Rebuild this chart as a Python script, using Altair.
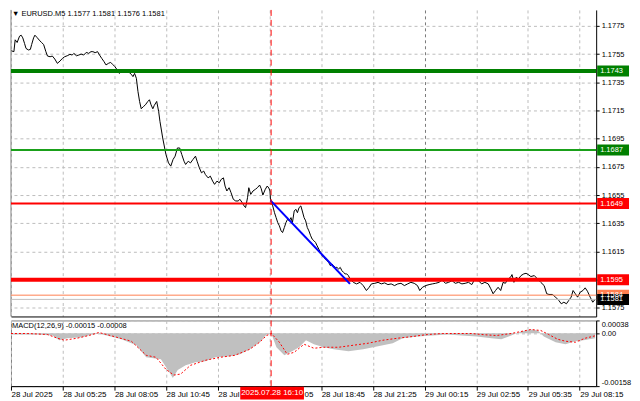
import json
import altair as alt
import pandas as pd

FONT = "Liberation Sans"
FS = 7.5
FSX = 8

# ---------------- price trace (bar index of M5 bars, close price) -------------
bars_a = [0.0, 1.8, 2.6, 3.8, 5.3, 6.3, 7.3, 8.4, 9.3, 10.8,
          12.0, 12.8, 14.0, 14.8, 16.1, 17.5, 18.9, 20.2, 21.6, 22.6,
          24.2, 25.6, 27.1, 28.7, 30.4, 31.8, 33.2, 34.8, 36.5, 37.9,
          38.9, 40.5, 42.0, 43.4, 45.0, 46.6, 48.1, 49.5, 50.7, 52.1,
          53.6, 54.8, 56.2, 57.6, 58.8, 60.3, 61.7, 62.9, 64.3, 65.8,
          67.0, 68.4, 69.8, 71.5, 73.1, 74.5, 75.5, 76.5, 77.6, 78.6,
          79.6, 80.6, 82.0, 83.2, 84.7, 85.7, 86.7, 87.8, 88.7, 90.2]
price_a = [1.17574, 1.17567, 1.17651, 1.17632, 1.17677, 1.17684, 1.17665, 1.17625, 1.17590, 1.17579,
           1.17583, 1.17618, 1.17665, 1.17684, 1.17668, 1.17649, 1.17632, 1.17618, 1.17567, 1.17536,
           1.17531, 1.17536, 1.17515, 1.17484, 1.17501, 1.17519, 1.17531, 1.17538, 1.17548, 1.17543,
           1.17555, 1.17538, 1.17543, 1.17550, 1.17543, 1.17562, 1.17555, 1.17567, 1.17567, 1.17560,
           1.17567, 1.17543, 1.17519, 1.17496, 1.17473, 1.17484, 1.17491, 1.17477, 1.17461, 1.17437,
           1.17413, 1.17425, 1.17425, 1.17425, 1.17420, 1.17406, 1.17390, 1.17413, 1.17378, 1.17284,
           1.17214, 1.17162, 1.17178, 1.17190, 1.17214, 1.17226, 1.17190, 1.17162, 1.17186, 1.17214]
bars_b = [91.4, 92.2, 93.9, 95.9, 97.5, 98.9, 100.3, 101.6, 103.0, 104.4,
          105.7, 107.1, 108.1, 109.7, 111.1, 112.6, 114.2, 115.2, 116.6, 117.9,
          119.3, 120.3, 122.0, 123.4, 124.8, 126.0, 127.5, 128.9, 130.1, 131.5,
          132.5, 133.6, 135.0, 136.2, 137.6, 139.1, 140.6, 141.7, 143.1, 144.3,
          145.2, 146.4, 147.2, 148.4, 149.8, 151.3, 152.5, 153.9, 154.9, 155.9,
          157.4, 158.6, 159.6, 160.3]
price_b = [1.17143, 1.17073, 1.16955, 1.16838, 1.16778, 1.16755, 1.16802, 1.16826, 1.16884, 1.16884,
           1.16838, 1.16790, 1.16767, 1.16790, 1.16778, 1.16802, 1.16826, 1.16790, 1.16743, 1.16708,
           1.16720, 1.16696, 1.16672, 1.16684, 1.16649, 1.16626, 1.16649, 1.16637, 1.16661, 1.16672,
           1.16614, 1.16579, 1.16602, 1.16567, 1.16520, 1.16508, 1.16508, 1.16520, 1.16496, 1.16473,
           1.16461, 1.16531, 1.16602, 1.16555, 1.16579, 1.16591, 1.16602, 1.16621, 1.16595, 1.16550,
           1.16591, 1.16614, 1.16600, 1.16579]
bars_c = [160.6, 162.0, 163.1, 164.1, 165.1, 166.1, 167.2, 168.1, 169.2, 170.2,
          171.2, 172.2, 173.3, 174.2, 175.3, 176.3, 177.3, 178.3, 179.4, 180.3,
          181.4, 182.4, 183.4, 184.4, 185.5, 186.4, 187.5, 188.5, 189.5, 190.5,
          191.6, 192.6, 193.6, 194.6, 195.6, 196.6, 197.7, 198.7, 199.7, 200.7,
          201.7, 202.8, 203.8, 204.8, 205.8, 206.8, 207.8, 208.8, 209.9, 210.9]
price_c = [1.16520, 1.16473, 1.16425, 1.16390, 1.16355, 1.16332, 1.16296, 1.16284, 1.16320, 1.16355,
           1.16379, 1.16367, 1.16390, 1.16355, 1.16437, 1.16449, 1.16425, 1.16461, 1.16473, 1.16437,
           1.16390, 1.16367, 1.16320, 1.16296, 1.16261, 1.16238, 1.16226, 1.16214, 1.16190, 1.16167,
           1.16143, 1.16120, 1.16108, 1.16097, 1.16085, 1.16073, 1.16049, 1.16061, 1.16049, 1.16037,
           1.16037, 1.16026, 1.16037, 1.16014, 1.16002, 1.15991, 1.15991, 1.15979, 1.15955, 1.15943]
bars_d = [211.9, 213.9, 216.0, 218.0, 220.0, 221.7, 223.1, 225.2, 227.2, 229.2,
          231.3, 233.3, 235.3, 237.4, 239.4, 241.4, 243.5, 245.5, 247.5, 249.6,
          251.6, 253.0, 254.7, 256.7, 258.8, 260.8, 262.8, 264.9, 266.9, 268.9,
          270.9, 273.0, 275.0, 277.1, 279.1, 281.1, 283.2, 285.2, 287.2, 289.3,
          291.3, 293.3, 295.4, 297.0, 298.4, 299.9, 301.5, 303.1, 304.6, 306.0,
          307.6, 309.2, 310.1, 311.3, 312.7, 314.1, 315.7, 317.4, 318.8, 320.2,
          321.8, 323.9, 325.9, 327.9, 330.0, 331.6, 333.0, 335.1, 337.1, 339.1,
          340.6, 342.2, 343.8, 345.2, 346.7, 347.9, 349.3, 350.7, 352.3, 354.0,
          355.4, 356.8, 358.5, 360.1, 361.5]
price_d = [1.15931, 1.15920, 1.15931, 1.15908, 1.15873, 1.15896, 1.15920, 1.15924, 1.15931, 1.15920,
           1.15927, 1.15915, 1.15920, 1.15908, 1.15920, 1.15924, 1.15908, 1.15920, 1.15931, 1.15924,
           1.15908, 1.15873, 1.15896, 1.15908, 1.15915, 1.15920, 1.15924, 1.15931, 1.15948, 1.15924,
           1.15931, 1.15943, 1.15924, 1.15931, 1.15920, 1.15924, 1.15931, 1.15915, 1.15955, 1.15943,
           1.15920, 1.15931, 1.15920, 1.15885, 1.15850, 1.15873, 1.15896, 1.15873, 1.15931, 1.15924,
           1.15955, 1.15967, 1.15986, 1.15931, 1.15967, 1.15955, 1.15979, 1.15991, 1.15995, 1.15986,
           1.15972, 1.15979, 1.15955, 1.15931, 1.15908, 1.15850, 1.15845, 1.15845, 1.15826, 1.15802,
           1.15779, 1.15790, 1.15779, 1.15802, 1.15826, 1.15873, 1.15850, 1.15826, 1.15861, 1.15873,
           1.15892, 1.15868, 1.15826, 1.15790, 1.15810]

# ---------------- MACD(12,26,9) ----------------
hist_bar = [0.0, 16.5, 25.6, 29.9, 34.8, 44.0, 50.1, 54.4, 59.2, 68.4, 77.6, 83.7, 92.8, 97.1,
            100.2, 103.2, 108.1, 114.2, 120.3, 126.4, 135.6, 141.7, 147.8, 153.9, 158.2, 161.2,
            164.3, 169.2, 174.0, 178.3, 182.6, 187.5, 193.6, 199.7, 208.9, 218.0, 227.2, 236.3,
            242.4, 251.6, 260.8, 269.9, 279.1, 288.2, 297.4, 303.5, 309.6, 315.7, 321.8, 326.1,
            329.8, 337.1, 343.2, 349.3, 355.4, 361.5]
hist_val = [-0.00004, -0.00004, -0.00007, -0.00021, -0.00015, -0.00012, -0.00004, -0.00002, -0.00007,
            -0.00018, -0.00036, -0.00072, -0.00078, -0.00110, -0.00134, -0.00110, -0.00096, -0.00087,
            -0.00084, -0.00072, -0.00069, -0.00063, -0.00048, -0.00027, -0.00004, -0.00002, -0.00042,
            -0.00066, -0.00054, -0.00042, -0.00021, -0.00033, -0.00042, -0.00048, -0.00054, -0.00048,
            -0.00039, -0.00030, -0.00015, -0.00010, -0.00007, -0.00004, -0.00007, -0.00010, -0.00015,
            -0.00018, -0.00007, 0.00005, 0.00011, 0.00008, -0.00010, -0.00027, -0.00033, -0.00024,
            -0.00020, -0.00015]
sig_bar = [0.0, 10.4, 22.6, 28.7, 33.0, 40.9, 48.2, 54.4, 59.2, 65.3, 74.5, 83.7, 89.8, 95.9,
           100.8, 105.0, 111.1, 120.3, 129.5, 138.6, 147.8, 153.9, 158.2, 161.2, 166.1, 171.0,
           175.3, 181.4, 187.5, 193.6, 202.8, 211.9, 221.1, 230.2, 239.4, 248.6, 257.7, 266.9,
           276.0, 285.2, 291.3, 300.5, 309.6, 315.7, 321.8, 327.9, 332.8, 338.3, 343.2, 349.3,
           355.4, 361.5]
sig_val = [-0.00001, -0.00001, -0.00004, -0.00015, -0.00021, -0.00015, -0.00007, 0.00002, -0.00004,
           -0.00012, -0.00024, -0.00066, -0.00072, -0.00108, -0.00125, -0.00122, -0.00096, -0.00081,
           -0.00072, -0.00066, -0.00048, -0.00027, -0.00007, -0.00001, -0.00027, -0.00063, -0.00057,
           -0.00033, -0.00045, -0.00042, -0.00042, -0.00036, -0.00030, -0.00021, -0.00015, -0.00010,
           -0.00004, -0.00001, -0.00001, -0.00001, -0.00004, -0.00007, -0.00001, 0.00005, 0.00011,
           0.00008, -0.00004, -0.00018, -0.00024, -0.00027, -0.00015, -0.00008]

# ---------------- levels, trend line, cursor ----------------
level_price = [1.1743, 1.1687, 1.1649, 1.1595, 1.1584, 1.1581]
level_color = ["#008000", "#1aa01a", "#ff0000", "#ff0000", "#ff7f50", "#c0c0c0"]
level_width = [4, 2, 2, 4, 1, 1]
tag_color = ["#008000", "#008000", "#ff0000", "#ff0000", "#ff7f50", "#000000"]

trend_bar = [160.6, 209.8]
trend_price = [1.16512, 1.15920]

cursor_bar = [161]
cursor_text = ["2025.07.28 16:10"]

title_text = "\u25bc EURUSD.M5  1.1577 1.1581 1.1576 1.1581"
macd_text = "MACD(12,26,9) -0.00015 -0.00008"

price_ticks = [1.1575, 1.1595, 1.1615, 1.1635, 1.1655, 1.1675, 1.1695, 1.1715, 1.1735, 1.1755, 1.1775]
macd_ticks = [0.00038, 0.0, -0.00158]
time_ticks = [0, 32, 64, 96, 128, 160, 192, 224, 256, 288, 320, 352]
time_labels = ["28 Jul 2025", "28 Jul 05:25", "28 Jul 08:05", "28 Jul 10:45", "28 Jul 13:25",
               "28 Jul 16:05", "28 Jul 18:45", "28 Jul 21:25", "29 Jul 00:15", "29 Jul 02:55",
               "29 Jul 05:35", "29 Jul 08:15"]
day_sep = 256

# ---------------- tables ----------------
price_df = pd.DataFrame({"bar": bars_a + bars_b + bars_c + bars_d,
                         "price": price_a + price_b + price_c + price_d})
levels_df = pd.DataFrame({"price": level_price, "color": level_color, "width": level_width,
                          "tag": tag_color, "label": [f"{p:.4f}" for p in level_price],
                          "order": list(range(len(level_price)))})
trend_df = pd.DataFrame({"bar": trend_bar, "price": trend_price})
cursor_df = pd.DataFrame({"bar": cursor_bar, "label": cursor_text})
hist_df = pd.DataFrame({"bar": hist_bar, "macd": hist_val})
sig_df = pd.DataFrame({"bar": sig_bar, "signal": sig_val})
left_df = pd.DataFrame({"bar": [0]})

W = 588
GRID = "#bcbcbc"
xscale = alt.Scale(domain=[0, 362.2], nice=False, zero=False)
yscale = alt.Scale(domain=[1.15689, 1.17863], nice=False, zero=False)
mscale = alt.Scale(domain=[-0.00158, 0.00038], nice=False, zero=False)

grid_color = alt.condition(f"datum.value == {day_sep}", alt.value("#7a7a7a"), alt.value(GRID))

x_main_axis = alt.Axis(values=time_ticks, labels=False, ticks=False, domain=True, domainColor="#000000",
                       grid=True, gridDash=[3, 3], gridColor=grid_color, title=None)
y_main_axis = alt.Axis(orient="right", values=price_ticks, format=".4f", grid=True, gridDash=[3, 3],
                       gridColor=GRID, tickSize=3, tickColor="#000000", domainColor="#000000",
                       labelFont=FONT, labelFontSize=FS, labelColor="#000000", labelPadding=2,
                       labelOverlap=False, title=None)

label_expr = json.dumps(time_labels) + "[round(datum.value / 32)]"
x_macd_axis = alt.Axis(values=time_ticks, labelExpr=label_expr, labelAlign="left", labelPadding=0,
                       tickSize=4, tickColor="#000000", domainColor="#000000", grid=True,
                       gridDash=[3, 3], gridColor=grid_color, labelFont=FONT, labelFontSize=FSX,
                       labelColor="#000000", labelOverlap=False, labelBound=False, labelFlush=False,
                       title=None)
y_macd_axis = alt.Axis(orient="right", values=macd_ticks,
                       labelExpr="datum.value == 0 ? '0.00' : replace(format(datum.value, '.5f'), '\u2212', '-')",
                       labelFlush=True, grid=True, gridDash=[3, 3], gridColor=GRID, tickSize=3,
                       tickColor="#000000", domainColor="#000000", labelFont=FONT, labelFontSize=FS,
                       labelColor="#000000", labelPadding=2, labelOverlap=False, title=None)

X = alt.X("bar:Q", scale=xscale, axis=x_main_axis)
Y = alt.Y("price:Q", scale=yscale, axis=y_main_axis)

price_line = alt.Chart(price_df).mark_line(color="#000000", strokeWidth=1).encode(x=X, y=Y)
left_border = alt.Chart(left_df).mark_rule(color="#808080", strokeWidth=1).encode(
    x=alt.X("bar:Q", scale=xscale, axis=x_main_axis))
level_rules = alt.Chart(levels_df).mark_rule().encode(
    y=Y, color=alt.Color("color:N", scale=None), size=alt.Size("width:Q", scale=None))
trend = alt.Chart(trend_df).mark_line(color="#0000ff", strokeWidth=2).encode(x=X, y=Y)
cursor_main = alt.Chart(cursor_df).mark_rule(color="#ff0000", strokeWidth=1, strokeDash=[6, 4]).encode(
    x=alt.X("bar:Q", scale=xscale, axis=x_main_axis))
tag_shape = "M-1,-0.344L1,-0.344L1,0.344L-1,0.344Z"
tags = alt.Chart(levels_df).mark_point(shape=tag_shape, filled=True, size=1024, opacity=1,
                                       strokeWidth=0).encode(
    x=alt.value(W + 17), y=Y, color=alt.Color("tag:N", scale=None), order=alt.Order("order:Q"))
tag_text = alt.Chart(levels_df).mark_text(align="left", baseline="middle", font=FONT, fontSize=FS,
                                          color="#ffffff").encode(
    x=alt.value(W + 4), y=Y, text="label:N", order=alt.Order("order:Q"))
title = alt.Chart(pd.DataFrame({"t": [title_text]})).mark_text(
    align="left", baseline="middle", font=FONT, fontSize=FS, color="#000000").encode(
    x=alt.value(1), y=alt.value(4), text="t:N")

main = alt.layer(price_line, left_border, level_rules, trend, cursor_main, tags, tag_text, title).properties(
    width=W, height=308, view=alt.ViewConfig(strokeWidth=0))

XM = alt.X("bar:Q", scale=xscale, axis=x_macd_axis)
hist = alt.Chart(hist_df).mark_area(color="#c0c0c0", opacity=1).encode(
    x=XM, y=alt.Y("macd:Q", scale=mscale, axis=y_macd_axis), y2=alt.datum(0))
sig = alt.Chart(sig_df).mark_line(color="#ff0000", strokeWidth=1, strokeDash=[2, 2]).encode(
    x=XM, y=alt.Y("signal:Q", scale=mscale, axis=y_macd_axis))
cursor_macd = alt.Chart(cursor_df).mark_rule(color="#ff0000", strokeWidth=1, strokeDash=[6, 4]).encode(x=XM)
cursor_box = alt.Chart(cursor_df).mark_point(shape="M-1,-0.203L1,-0.203L1,0.203L-1,0.203Z", filled=True,
                                             size=4096, opacity=1, strokeWidth=0, color="#ff0000",
                                             xOffset=1).encode(x=XM, y=alt.value(73))
cursor_lbl = alt.Chart(cursor_df).mark_text(font=FONT, fontSize=FSX, color="#ffffff", baseline="middle",
                                            xOffset=1).encode(x=XM, y=alt.value(73), text="label:N")
macd_title = alt.Chart(pd.DataFrame({"t": [macd_text]})).mark_text(
    align="left", baseline="middle", font=FONT, fontSize=FS, color="#000000").encode(
    x=alt.value(1), y=alt.value(6), text="t:N")

macd = alt.layer(hist, sig, cursor_macd, cursor_box, cursor_lbl, macd_title).properties(
    width=W, height=66, view=alt.ViewConfig(stroke="#808080", strokeWidth=1))

chart = alt.vconcat(main, macd, spacing=2).properties(padding=0, background="#ffffff")

chart.save("out.html", embed_options={"renderer": "svg", "actions": False})
